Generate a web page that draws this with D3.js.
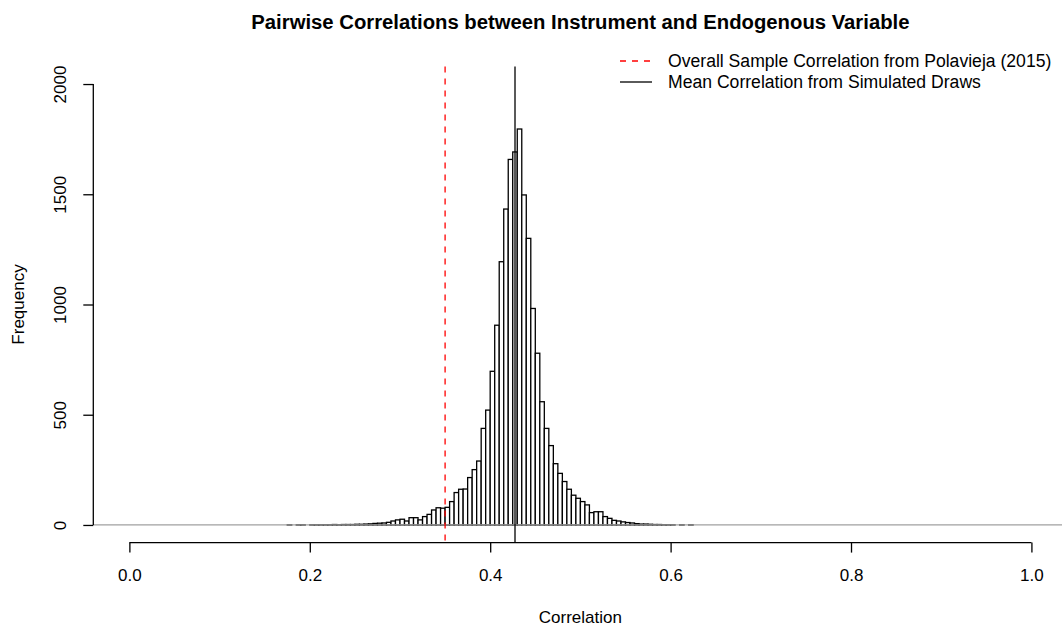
<!DOCTYPE html>
<html>
<head>
<meta charset="utf-8">
<script src="https://cdn.jsdelivr.net/npm/d3@7"></script>
<style>
  body { margin: 0; background: #fff; }
  svg { display: block; font-family: "Liberation Sans", Arial, Helvetica, sans-serif; }
</style>
</head>
<body>
<div id="chart"></div>
<script>
// histogram of simulated pairwise correlations, bins of width 0.005 starting at 0.175
const binStart = 0.175;
const binWidth = 0.005;
const counts = [
  1, 0, 1, 1, 0, 1, 1, 1, 1, 1,
  2, 1, 2, 2, 2, 3, 3, 4, 5, 7,
  8, 9, 12, 18, 23, 26, 18, 33, 33, 23,
  38, 48, 68, 78, 76, 80, 106, 147, 162, 163,
  215, 251, 290, 438, 521, 697, 906, 1194, 1433, 1658,
  1692, 1796, 1497, 1300, 982, 779, 559, 438, 360, 278,
  234, 197, 162, 135, 121, 106, 91, 56, 60, 60,
  38, 30, 21, 18, 14, 11, 9, 6, 4, 4,
  3, 2, 2, 1, 1, 1, 0, 1, 0, 1
];

const sampleCorr = 0.35;   // Polavieja (2015)
const meanCorr = 0.4275;   // mean of simulated draws

const xTicks = [0, 0.2, 0.4, 0.6, 0.8, 1.0];
const yTicks = [0, 500, 1000, 1500, 2000];

const legendLabels = [
  "Overall Sample Correlation from Polavieja (2015)",
  "Mean Correlation from Simulated Draws"
];

const W = 1062, H = 629;
const plot = { left: 93.3, right: 1067.5, top: 66.4, bottom: 542.6 };

const bins = counts.map((c, i) => ({
  x0: binStart + i * binWidth,
  x1: binStart + (i + 1) * binWidth,
  count: c
}));

// R style: axis limits padded 4% on each side
const x = d3.scaleLinear().domain([-0.04, 1.04]).range([plot.left, plot.right]);
const y = d3.scaleLinear().domain([-80, 2080]).range([plot.bottom, plot.top]);

const svg = d3.select("#chart")
  .append("svg")
  .attr("width", W)
  .attr("height", H);

// title
svg.append("text")
  .attr("x", (plot.left + plot.right) / 2)
  .attr("y", 22)
  .attr("dy", "0.35em")
  .attr("text-anchor", "middle")
  .attr("font-weight", "bold")
  .attr("font-size", 20.3)
  .text("Pairwise Correlations between Instrument and Endogenous Variable");

// bars
svg.append("g")
  .selectAll("rect")
  .data(bins.filter(d => d.count > 0))
  .join("rect")
  .attr("x", d => x(d.x0))
  .attr("y", d => y(d.count))
  .attr("width", d => x(d.x1) - x(d.x0))
  .attr("height", d => y(0) - y(d.count))
  .attr("fill", "white")
  .attr("stroke", "black")
  .attr("stroke-width", 1.3);

// baseline
svg.append("line")
  .attr("x1", plot.left)
  .attr("x2", plot.right)
  .attr("y1", y(0))
  .attr("y2", y(0))
  .attr("stroke", "#a0a0a0")
  .attr("stroke-width", 1.2);

// reference lines
svg.append("line")
  .attr("x1", x(sampleCorr))
  .attr("x2", x(sampleCorr))
  .attr("y1", plot.top)
  .attr("y2", plot.bottom)
  .attr("stroke", "red")
  .attr("stroke-width", 1.3)
  .attr("stroke-dasharray", "6,6");

svg.append("line")
  .attr("x1", x(meanCorr))
  .attr("x2", x(meanCorr))
  .attr("y1", plot.top)
  .attr("y2", plot.bottom)
  .attr("stroke", "black")
  .attr("stroke-width", 1.3);

// axes
const xAxis = d3.axisBottom(x)
  .tickValues(xTicks)
  .tickFormat(d3.format(".1f"))
  .tickSizeOuter(0)
  .tickSize(10)
  .tickPadding(16);

const yAxis = d3.axisLeft(y)
  .tickValues(yTicks)
  .tickFormat(d3.format("d"))
  .tickSizeOuter(0)
  .tickSize(10);

const gx = svg.append("g")
  .attr("transform", `translate(0,${plot.bottom})`)
  .call(xAxis);
gx.select(".domain").remove();
gx.append("line")
  .attr("x1", x(xTicks[0]))
  .attr("x2", x(xTicks[xTicks.length - 1]))
  .attr("stroke", "black")
  .attr("stroke-width", 1.3);
gx.selectAll(".tick line").attr("stroke-width", 1.3);
gx.selectAll(".tick text")
  .attr("font-size", 17)
  .attr("fill", "black");

const gy = svg.append("g")
  .attr("transform", `translate(${plot.left},0)`)
  .call(yAxis);
gy.select(".domain").remove();
gy.append("line")
  .attr("y1", y(yTicks[0]))
  .attr("y2", y(yTicks[yTicks.length - 1]))
  .attr("stroke", "black")
  .attr("stroke-width", 1.3);
gy.selectAll(".tick line").attr("stroke-width", 1.3);
gy.selectAll(".tick text")
  .attr("font-size", 17)
  .attr("fill", "black")
  .attr("x", null)
  .attr("dy", null)
  .attr("text-anchor", "middle")
  .attr("transform", "translate(-27,0) rotate(-90)");

// axis titles
svg.append("text")
  .attr("x", (plot.left + plot.right) / 2)
  .attr("y", 617)
  .attr("dy", "0.35em")
  .attr("text-anchor", "middle")
  .attr("font-size", 17)
  .text("Correlation");

svg.append("text")
  .attr("transform", `translate(18,${(plot.top + plot.bottom) / 2}) rotate(-90)`)
  .attr("dy", "0.35em")
  .attr("text-anchor", "middle")
  .attr("font-size", 17)
  .text("Frequency");

// legend, top right, no box
const legendStyles = [
  { color: "red", dash: "6,6" },
  { color: "black", dash: null }
];

const legend = svg.append("g");
legendLabels.forEach((label, i) => {
  const ly = 61 + i * 21;
  legend.append("line")
    .attr("x1", 620)
    .attr("x2", 652)
    .attr("y1", ly)
    .attr("y2", ly)
    .attr("stroke", legendStyles[i].color)
    .attr("stroke-width", 1.3)
    .attr("stroke-dasharray", legendStyles[i].dash);
  legend.append("text")
    .attr("x", 668)
    .attr("y", ly)
    .attr("dy", "0.35em")
    .attr("font-size", 17.6)
    .text(label);
});
</script>
</body>
</html>
